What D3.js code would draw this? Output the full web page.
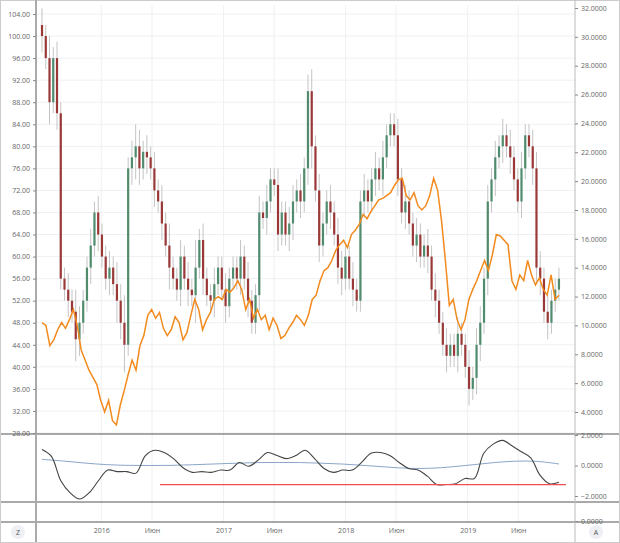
<!DOCTYPE html>
<html><head><meta charset="utf-8">
<script src="https://cdn.jsdelivr.net/npm/d3@7"></script>
<style>body{margin:0;background:#fff;font-family:"Open Sans",Roboto,sans-serif}</style>
</head><body><div id="chart"></div>
<script>
// Price closes (left axis), sequential periods
var closes = [100,96,88,96,86,56,54,52,50,45,48,52,58,62,68,64,60,56,58,55,52,48,44,76,78,80,76,79,78,76,72,70,66,62,58,56,54,60,56,54,53,58,63,56,53,52,55,58,54,51,56,58,56,60,56,52,48,53,68,67,70,74,73,64,68,64,66,70,72,70,76,90,80,72,62,66,70,68,64,58,56,60,56,54,52,70,72,70,74,76,74,78,82,84,82,74,68,70,66,62,64,60,62,60,54,52,48,44,42,44,42,46,44,40,36,38,44,48,56,70,74,78,80,82,80,78,74,70,76,82,80,76,58,56,50,48,52,54,56];
// wick extension beyond body
var wicks = [3,2,4,2,3,2,2,3,2,4,3,2,2,3,2,3,2,2,3,2,4,3,5,2,3,4,3,2,3,2,3,2,3,2,4,2,2,3,2,3,2,5,2,3,2,2,3,2,2,3,2,2,2,3,2,3,2,2,3,2,3,2,2,3,2,2,3,3,2,3,2,3,4,2,3,2,2,3,2,3,3,2,2,3,2,2,3,2,2,3,2,3,2,2,2,3,2,3,2,2,3,2,2,3,2,3,2,2,3,2,2,3,2,2,3,2,3,3,2,3,2,3,2,3,2,3,2,2,3,2,2,3,3,3,2,3,2,2,2,2];
// orange series (right axis)
var orange = [10.2,10.0,8.6,9.0,9.7,10.2,9.8,10.4,11.1,10.0,8.3,7.6,6.9,6.4,5.9,4.8,4.0,4.8,3.4,3.1,4.5,5.5,6.6,7.6,6.9,8.6,9.3,10.7,11.1,10.5,10.9,9.8,9.3,9.7,10.6,10.2,9.0,9.5,10.7,11.8,11.1,9.7,10.4,10.9,11.8,12.0,11.8,12.5,12.3,12.6,13.1,12.5,11.1,11.8,10.5,11.1,10.4,10.7,9.7,10.5,10.0,9.1,9.3,9.8,10.2,10.7,10.4,10.0,10.7,11.8,12.1,13.1,13.8,14.0,14.5,15.2,15.6,15.9,15.4,16.3,16.6,17.0,17.7,17.4,17.9,18.3,18.7,18.8,19.0,19.2,19.7,20.1,20.2,19.0,18.7,19.2,18.3,18.0,18.3,19.0,20.2,19.4,17.3,14.5,11.4,11.8,10.4,9.7,10.4,11.8,12.5,13.1,13.8,14.5,13.8,14.9,16.3,16.2,15.9,15.6,13.1,12.5,13.5,13.1,14.5,13.5,12.8,13.3,12.5,12.1,13.5,11.8,12.1];
// oscillator (lower panel)
var osc = [1.05,0.6,-1.0,-1.8,-2.2,-1.8,-1.0,-0.3,-0.4,-0.4,-0.5,0.65,1.0,0.85,0.45,-0.15,-0.45,-0.4,-0.45,-0.3,-0.3,0.2,-0.05,0.35,0.85,0.65,0.45,0.65,1.0,0.45,-0.2,-0.45,-0.3,-0.3,0.2,0.8,0.85,0.65,0.2,-0.2,-0.3,-0.7,-1.25,-1.25,-1.2,-0.85,-0.85,0.8,1.4,1.65,1.3,0.9,0.5,-0.65,-1.2,-1.1];
var signal = [0.4,0.3,0.15,0.05,0,0,0,0.05,0.1,0.15,0.2,0.2,0.2,0.15,0.1,0,-0.1,-0.2,-0.2,-0.1,0.05,0.2,0.3,0.3,0.1];
var redLevel = -1.25;
var leftTicks = d3.range(28, 105, 4);
var rightTicks = d3.range(4, 33, 2);
var xTicks = [["2016",new Date(2016,0,1)],["Июн",new Date(2016,5,1)],["2017",new Date(2017,0,1)],["Июн",new Date(2017,5,1)],["2018",new Date(2018,0,1)],["Июн",new Date(2018,5,1)],["2019",new Date(2019,0,1)],["Июн",new Date(2019,5,1)]];
var startDate = new Date(2015,6,8), endDate = new Date(2019,9,1);

var W = 620, H = 543, L = 36, R = 575;
var svg = d3.select("#chart").append("svg").attr("width", W).attr("height", H);
// 2016-01-01 lands near x=97
var x = d3.scaleTime().domain([new Date(2015,5,20), new Date(2019,10,18)]).range([L, R]);
var yL = d3.scaleLinear().domain([28, 104]).range([433, 14]);
var yR = d3.scaleLinear().domain([4, 32]).range([412, 8]);
var yO = d3.scaleLinear().domain([-2, 2]).range([496, 435]);

function idxTime(n) {
  var s = d3.scaleLinear().domain([0, n - 1]).range([startDate.getTime(), endDate.getTime()]);
  return function(i) { return x(new Date(s(i))); };
}

// gridlines
var g = svg.append("g");
g.selectAll(".hg").data(leftTicks).enter().append("line")
  .attr("x1", L).attr("x2", R).attr("y1", d => yL(d)).attr("y2", d => yL(d))
  .attr("stroke", "#eef0f3");
g.selectAll(".vg").data(xTicks).enter().append("line")
  .attr("x1", d => x(d[1])).attr("x2", d => x(d[1])).attr("y1", 5).attr("y2", 522)
  .attr("stroke", "#eef0f3");

// candles
var cx = idxTime(closes.length);
var cw = 2.2;
var candles = svg.append("g");
closes.forEach(function(c, i) {
  var o = i === 0 ? 102 : closes[i - 1];
  var hi = Math.max(o, c) + wicks[i], lo = Math.min(o, c) - wicks[i];
  var xx = cx(i);
  candles.append("line").attr("x1", xx).attr("x2", xx).attr("y1", yL(hi)).attr("y2", yL(lo))
    .attr("stroke", "#c4c4c4").attr("stroke-width", 1);
  candles.append("rect").attr("x", xx - cw / 2).attr("width", cw)
    .attr("y", yL(Math.max(o, c))).attr("height", Math.max(1, Math.abs(yL(o) - yL(c))))
    .attr("fill", c >= o ? "#4f8b6c" : "#9a3838");
});

// orange line
var ox = idxTime(orange.length);
svg.append("path").datum(orange)
  .attr("d", d3.line().x((d, i) => ox(i)).y(d => yR(d)))
  .attr("fill", "none").attr("stroke", "#f28a1e").attr("stroke-width", 1.5);

// lower panel
var sx = idxTime(osc.length), gx = idxTime(signal.length);
svg.append("path").datum(signal)
  .attr("d", d3.line().curve(d3.curveBasis).x((d, i) => gx(i)).y(d => yO(d)))
  .attr("fill", "none").attr("stroke", "#8aa6c8").attr("stroke-width", 1);
svg.append("path").datum(osc)
  .attr("d", d3.line().curve(d3.curveCatmullRom).x((d, i) => sx(i)).y(d => yO(d)))
  .attr("fill", "none").attr("stroke", "#444").attr("stroke-width", 1.1);
svg.append("line").attr("x1", 160).attr("x2", 566).attr("y1", yO(redLevel)).attr("y2", yO(redLevel))
  .attr("stroke", "#f04e4e").attr("stroke-width", 1.2);

// frame
var frame = svg.append("g").attr("stroke", "#555");
[434, 502, 522].forEach(function(yy) {
  frame.append("line").attr("x1", 0).attr("x2", 620).attr("y1", yy).attr("y2", yy);
});
frame.append("line").attr("x1", 0).attr("x2", 620).attr("y1", 0.5).attr("y2", 0.5).attr("stroke", "#ccc");
svg.append("line").attr("x1", L).attr("x2", L).attr("y1", 0).attr("y2", 543).attr("stroke", "#aaa").attr("stroke-width", 2);
svg.append("line").attr("x1", R).attr("x2", R).attr("y1", 0).attr("y2", 543).attr("stroke", "#bbb");
svg.append("line").attr("x1", 0.5).attr("x2", 0.5).attr("y1", 0).attr("y2", 543).attr("stroke", "#ccc");
svg.append("line").attr("x1", 619.5).attr("x2", 619.5).attr("y1", 0).attr("y2", 543).attr("stroke", "#ccc");
svg.append("line").attr("x1", 0).attr("x2", 620).attr("y1", 542.5).attr("y2", 542.5).attr("stroke", "#ccc");

// axes
svg.append("g").attr("transform", "translate(" + L + ",0)")
  .call(d3.axisLeft(yL).tickValues(leftTicks).tickFormat(d3.format(".2f")).tickSize(3));
svg.append("g").attr("transform", "translate(" + R + ",0)")
  .call(d3.axisRight(yR).tickValues(rightTicks).tickFormat(d3.format(".4f")).tickSize(3));
svg.append("g").attr("transform", "translate(" + R + ",0)")
  .call(d3.axisRight(yO).tickValues([-2, 0, 2]).tickFormat(d3.format(".4f")).tickSize(3));
svg.append("g").attr("transform", "translate(" + R + ",0)")
  .call(d3.axisRight(d3.scaleLinear().domain([0, 1]).range([521, 511])).tickValues([0]).tickFormat(d3.format(".4f")).tickSize(3));
svg.append("g").attr("transform", "translate(0,522)")
  .call(d3.axisBottom(x).tickValues(xTicks.map(d => d[1])).tickFormat((d, i) => xTicks[i][0]).tickSize(0).tickPadding(6));
svg.selectAll(".domain").remove();
svg.selectAll(".tick line").attr("stroke", "#888");
svg.selectAll(".tick text").attr("font-size", "7px").attr("fill", "#666").attr("font-family", "Open Sans, sans-serif");

// corner badges
[["Z", 18], ["A", 596]].forEach(function(b) {
  svg.append("circle").attr("cx", b[1]).attr("cy", 532).attr("r", 7).attr("fill", "#eef0f3");
  svg.append("text").attr("x", b[1]).attr("y", 535).attr("text-anchor", "middle")
    .attr("font-size", "7px").attr("fill", "#555").text(b[0]);
});
</script></body></html>
